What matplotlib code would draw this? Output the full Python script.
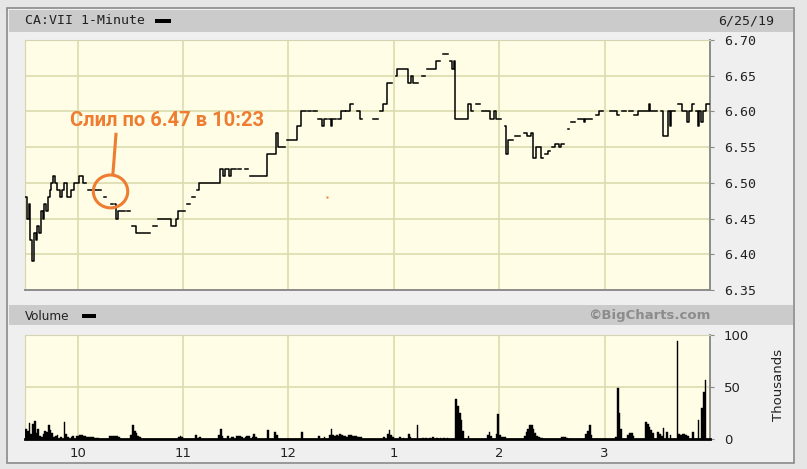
import numpy as np
import matplotlib
matplotlib.use('Agg')
import matplotlib.pyplot as plt
from matplotlib.patches import Rectangle, Ellipse

nan = float('nan')

# ---------------- data ----------------
price_t = [0, 1, 2, 3, 4, 5, 6, 7, 8, 9, 10, 11, 12, 13, 14, 15, 16, 17, 18, 19, 20, 21, 22, 24, 26, 28,
           31, 33, 35, 36, 38, 40, 43, 45, 46, 49, 50, 51, 52, 53, 57, 58, 60, 61, 63, 71, 73, 75, 76,
           83, 86, 87, 91, 92, 94, 95, 97, 98, 99, 111, 113, 114, 116, 117, 120, 121, 123, 125, 127,
           128, 138, 143, 144, 148, 149, 154, 155, 157, 160, 161, 163, 164, 166, 167, 169, 170, 172,
           173, 174, 175, 177, 178, 180, 182, 183, 185, 187, 189, 191, 192, 198, 201, 202, 204, 206,
           209, 211, 212, 218, 220, 221, 224, 226, 228, 229, 234, 236, 238, 241, 242, 243, 244, 245,
           252, 254, 255, 257, 259, 260, 265, 267, 268, 271, 273, 274, 275, 278, 279, 282, 284, 286,
           288, 289, 291, 294, 295, 296, 298, 299, 300, 302, 304, 305, 307, 309, 310, 311, 313, 315,
           318, 319, 323, 325, 327, 329, 333, 337, 338, 340, 342, 344, 346, 347, 349, 355, 356, 360,
           362, 363, 366, 367, 368, 370, 372, 374, 377, 378, 380, 381, 382, 383, 384, 385, 386, 388,
           390]
price_v = [6.48, 6.45, 6.47, 6.42, 6.39, 6.43, 6.42, 6.44, 6.43, 6.46, 6.45, 6.47, 6.46, 6.48, 6.49,
           6.50, 6.51, 6.50, 6.49, 6.49, 6.48, 6.49, 6.50, 6.48, 6.49, 6.50, 6.51, 6.50, nan, 6.49,
           nan, 6.49, nan, 6.48, nan, 6.47, nan, 6.47, 6.45, 6.46, nan, 6.46, nan, 6.44, 6.43, nan,
           6.44, nan, 6.45, 6.44, 6.45, 6.46, nan, 6.47, nan, 6.48, nan, 6.49, 6.50, 6.52, 6.51,
           6.52, 6.51, 6.52, nan, 6.52, nan, 6.52, nan, 6.51, 6.54, 6.57, 6.55, nan, 6.56, 6.56,
           6.58, 6.60, nan, 6.60, nan, 6.60, nan, 6.59, 6.58, 6.59, nan, 6.59, 6.58, 6.59, nan,
           6.59, 6.60, nan, 6.60, 6.61, nan, 6.60, 6.59, nan, 6.59, nan, 6.60, 6.61, 6.64, nan,
           6.65, 6.66, 6.64, 6.65, 6.64, nan, 6.65, nan, 6.66, 6.67, nan, 6.68, nan, 6.67, 6.66,
           6.67, 6.59, 6.61, 6.60, nan, 6.61, nan, 6.60, 6.59, 6.60, 6.59, nan, 6.58, 6.54, 6.56,
           nan, 6.565, nan, 6.57, 6.565, 6.57, 6.535, 6.55, 6.535, nan, 6.54, 6.545, nan, 6.55,
           6.555, 6.55, 6.555, nan, 6.575, nan, 6.585, nan, 6.59, 6.585, 6.59, nan, 6.595, 6.60,
           nan, 6.60, 6.595, nan, 6.60, nan, 6.60, nan, 6.595, 6.60, 6.61, 6.60, nan, 6.60, 6.565,
           6.60, 6.58, 6.60, nan, 6.61, 6.60, 6.585, 6.60, 6.61, nan, 6.60, 6.58, 6.60, 6.585,
           6.60, 6.61, 6.61]

vol_t = [0, 1, 2, 3, 4, 5, 6, 7, 8, 9, 10, 11, 12, 13, 14, 15, 16, 17, 18, 20, 22, 23, 24, 26, 27,
         29, 30, 31, 32, 33, 34, 35, 36, 37, 38, 39, 40, 41, 48, 49, 50, 51, 52, 53, 60, 61, 62,
         63, 64, 65, 87, 88, 89, 97, 98, 99, 110, 111, 112, 115, 117, 118, 120, 121, 122, 123,
         125, 126, 127, 129, 130, 131, 138, 142, 143, 157, 167, 170, 173, 174, 175, 176, 177, 178,
         179, 180, 181, 182, 183, 184, 185, 186, 187, 188, 189, 190, 191, 204, 206, 207, 208, 209,
         213, 215, 218, 219, 223, 226, 228, 230, 232, 234, 236, 238, 240, 245, 246, 247, 248, 249,
         252, 263, 264, 265, 268, 269, 270, 271, 272, 273, 284, 285, 286, 287, 288, 289, 290, 291,
         292, 293, 294, 305, 306, 307, 308, 319, 320, 321, 322, 336, 337, 338, 339, 343, 344, 345,
         346, 353, 354, 355, 356, 357, 360, 361, 362, 363, 365, 367, 371, 372, 373, 374, 375, 376,
         377, 380, 383, 385, 386, 387]
vol_v = [10, 8, 15, 5, 14, 17, 6, 10, 3, 2, 5, 8, 7, 13, 9, 6, 2, 3, 4, 2, 16, 5, 2, 2, 3,
         3, 3, 4, 4, 3, 3, 2, 2, 2, 2, 1, 1, 1, 3, 3, 3, 3, 3, 2, 4, 13, 8,
         6, 3, 2, 2, 3, 2, 4, 1, 2, 4, 10, 3, 3, 2, 2, 3, 3, 3, 2,
         2, 3, 3, 2, 5, 2, 9, 7, 4, 7, 3, 2, 4, 10, 4, 3, 4, 3,
         5, 4, 3, 3, 2, 4, 4, 3, 3, 3, 2, 2, 2, 2, 5, 9, 4, 2,
         2, 1, 5, 2, 13, 1, 1, 1, 2, 1, 1, 1, 1, 38, 32, 25, 18, 8,
         3, 4, 7, 3, 5, 24, 4, 2, 2, 2, 3, 7, 10, 13, 13, 10, 6, 3,
         2, 1, 1, 2, 2, 2, 1, 5, 8, 13, 4, 2, 49, 25, 10, 4, 6, 6,
         3, 16, 14, 12, 9, 6, 7, 5, 3, 11, 7, 4, 94, 5, 4, 5, 5, 4,
         3, 7, 18, 30, 45, 57]

hour_ticks = [30, 90, 150, 210, 270, 330]
hour_labels = ['10', '11', '12', '1', '2', '3']
price_ticks = [6.35, 6.40, 6.45, 6.50, 6.55, 6.60, 6.65, 6.70]
vol_ticks = [0, 50, 100]

# ---------------- layout ----------------
W, H = 807, 469
fig = plt.figure(figsize=(W / 100, H / 100), dpi=100)
fig.patch.set_facecolor('#e6e6e6')

def fx(px):
    return px / W

def fy(py):
    return 1 - py / H

def frect(x0, y0, x1, y1, **kw):
    r = Rectangle((fx(x0), fy(y1)), fx(x1) - fx(x0), fy(y0) - fy(y1),
                  transform=fig.transFigure, **kw)
    fig.add_artist(r)
    return r

# outer panel
frect(7, 8, 794, 463, facecolor='#efefef', edgecolor='#8a8a8a', linewidth=1.2, zorder=0)
# header bars
frect(9, 10, 793, 32, facecolor='#cbcbcb', edgecolor='none', zorder=1)
frect(9, 305, 793, 325, facecolor='#cbcbcb', edgecolor='none', zorder=1)

mono = 'DejaVu Sans Mono'
fig.text(fx(25), fy(21), 'CA:VII 1-Minute', fontsize=9.5, family=mono, color='#222222',
         va='center', ha='left')
frect(155, 19, 171, 23, facecolor='black', edgecolor='none', zorder=2)
fig.text(fx(718), fy(21), '6/25/19', fontsize=9.5, family=mono, color='#222222',
         va='center', ha='left')
fig.text(fx(25), fy(316), 'Volume', fontsize=9.5, family='DejaVu Sans', color='#222222',
         va='center', ha='left', stretch='condensed')
frect(82, 314, 96, 318, facecolor='black', edgecolor='none', zorder=2)
fig.text(fx(710), fy(316), '\u00a9BigCharts.com', fontsize=9.5, family='DejaVu Sans',
         weight='bold', color='#8c8c8c', va='center', ha='right')

plot_bg = '#fffde6'
grid_c = '#dcdcae'

# ---------------- price axes ----------------
ax1 = fig.add_axes([fx(25), fy(290), fx(710) - fx(25), fy(40) - fy(290)])
ax1.set_facecolor(plot_bg)
ax1.set_xlim(0, 390)
ax1.set_ylim(6.35, 6.70)
ax1.set_yticks(price_ticks)
ax1.set_yticklabels(['%.2f' % v for v in price_ticks], family=mono, fontsize=9.5, color='#222222')
ax1.yaxis.tick_right()
ax1.tick_params(axis='y', length=3, color='#888888', pad=7)
ax1.set_xticks(hour_ticks)
ax1.tick_params(axis='x', length=0, labelbottom=False)
for v in price_ticks[1:-1]:
    ax1.axhline(v, color=grid_c, lw=1.2, zorder=1)
for t in hour_ticks:
    ax1.axvline(t, color=grid_c, lw=1.2, zorder=1)
for s in ['top', 'left']:
    ax1.spines[s].set_color('#d4d4b0')
for s in ['bottom', 'right']:
    ax1.spines[s].set_color('#8c8c8c')
    ax1.spines[s].set_linewidth(1.4)

ax1.step(price_t, price_v, where='post', color='black', lw=1.1, zorder=3)

# annotation
orange = '#ee7d31'
ax1.text(81, 6.587, 'Слил по 6.47 в 10:23', family=['Roboto', 'DejaVu Sans'], weight='bold',
         fontsize=14.5, color=orange, ha='center', va='center', zorder=5)
ax1.plot([51.8, 50.1], [6.568, 6.514], color=orange, lw=2.2, zorder=5)
ax1.add_patch(Ellipse((48.7, 6.488), 19.6, 0.046, fill=False, edgecolor=orange, lw=2.2, zorder=5))
ax1.plot([172], [6.480], marker='s', ms=2, color=orange, mec='none', zorder=5)

# ---------------- volume axes ----------------
ax2 = fig.add_axes([fx(25), fy(439), fx(710) - fx(25), fy(335) - fy(439)])
ax2.set_facecolor(plot_bg)
ax2.set_xlim(0, 390)
ax2.set_ylim(0, 100)
ax2.set_yticks(vol_ticks)
ax2.set_yticklabels([str(v) for v in vol_ticks], fontsize=9.5, color='#222222')
ax2.yaxis.tick_right()
ax2.tick_params(axis='y', length=3, color='#888888', pad=7)
ax2.set_xticks(hour_ticks)
ax2.set_xticklabels(hour_labels, fontsize=9.5, color='#222222')
ax2.tick_params(axis='x', length=0, pad=6)
ax2.axhline(50, color=grid_c, lw=1.2, zorder=1)
for t in hour_ticks:
    ax2.axvline(t, color=grid_c, lw=1.2, zorder=1)
ax2.spines['top'].set_color('#d4d4b0')
ax2.spines['left'].set_color('#d4d4b0')
ax2.spines['right'].set_color('#8c8c8c')
ax2.spines['right'].set_linewidth(1.4)
ax2.spines['bottom'].set_color('black')
ax2.spines['bottom'].set_linewidth(2)
ax2.bar(vol_t, vol_v, width=1.0, align='edge', color='black', edgecolor='black', lw=0.3, zorder=3)

fig.text(fx(778), fy(385), 'Thousands', rotation=90, fontsize=9.5, color='#222222',
         va='center', ha='center')

fig.savefig('out.png', dpi=100, facecolor=fig.get_facecolor())
